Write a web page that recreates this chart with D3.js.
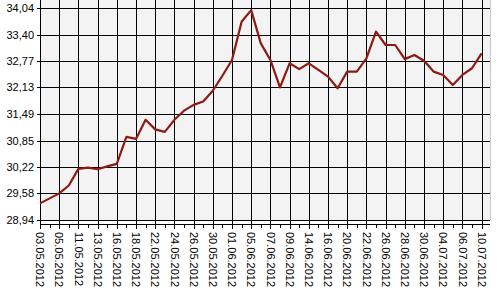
<!DOCTYPE html>
<html>
<head>
<meta charset="utf-8">
<script src="https://cdn.jsdelivr.net/npm/d3@7"></script>
<style>
  body { margin: 0; background: #fff; }
  text { font-family: "Liberation Sans", Arial, sans-serif; }
</style>
</head>
<body>
<script>
// Largeur et hauteur
var larg = 500;
var haut = 300;

// Libellés de l'axe X (un point sur deux)
var dates = ["03.05.2012", "05.05.2012", "11.05.2012", "13.05.2012", "16.05.2012", "18.05.2012",
  "22.05.2012", "24.05.2012", "26.05.2012", "30.05.2012", "01.06.2012", "05.06.2012",
  "07.06.2012", "09.06.2012", "14.06.2012", "16.06.2012", "20.06.2012", "22.06.2012",
  "26.06.2012", "28.06.2012", "30.06.2012", "04.07.2012", "06.07.2012", "10.07.2012"];

// Valeurs (47 points)
var valeurs = [29.34, 29.46, 29.58, 29.77, 30.17, 30.20, 30.16, 30.23, 30.29, 30.94,
  30.89, 31.35, 31.12, 31.06, 31.35, 31.57, 31.71, 31.79, 32.05, 32.41,
  32.79, 33.71, 33.99, 33.19, 32.79, 32.13, 32.71, 32.57, 32.71, 32.55,
  32.39, 32.11, 32.51, 32.51, 32.83, 33.47, 33.15, 33.15, 32.81, 32.91,
  32.77, 32.51, 32.43, 32.19, 32.43, 32.59, 32.95];

// Graduations de l'axe Y
var yTicks = [28.94, 29.58, 30.22, 30.85, 31.49, 32.13, 32.77, 33.40, 34.04];

var x0 = 40, x1 = 490, yTop = 0, yBas = 220;

var svg = d3.select("body")
  .append("svg")
  .attr("width", larg)
  .attr("height", haut);

var x = d3.scaleLinear()
  .domain([0, 47])
  .range([x0, x0 + 47 * 9.6]);

var y = d3.scaleLinear()
  .domain([28.94, 34.04])
  .range([yBas, 8]);

// Fond du graphe
svg.append("rect")
  .attr("x", x0)
  .attr("y", yTop)
  .attr("width", x1 - x0)
  .attr("height", yBas - yTop)
  .attr("fill", "#f3f3f3");

svg.append("line")
  .attr("x1", x1 + 0.5).attr("x2", x1 + 0.5)
  .attr("y1", yTop).attr("y2", yBas)
  .attr("stroke", "#c8c8c8");

// Grille horizontale + axe Y
var axeY = svg.append("g")
  .attr("transform", "translate(" + x0 + ",0)")
  .call(d3.axisLeft(y)
    .tickValues(yTicks)
    .tickSizeInner(-(x1 - x0))
    .tickSizeOuter(0)
    .tickPadding(4)
    .tickFormat(function(d) { return d3.format(".2f")(d).replace(".", ","); }));
axeY.select(".domain").remove();
axeY.selectAll("line").attr("stroke", "#000").attr("x1", -3).attr("shape-rendering", "crispEdges");
axeY.selectAll("text").attr("font-size", "11px").attr("fill", "#000").attr("dx", "-2");

// Indices des points
var idx = d3.range(valeurs.length);
var idxMaj = idx.filter(function(i) { return i % 2 == 0; });

// Grille verticale
var grille = svg.append("g")
  .attr("transform", "translate(0," + yBas + ")")
  .call(d3.axisBottom(x)
    .tickValues(idxMaj)
    .tickSizeInner(-(yBas - yTop))
    .tickSizeOuter(0)
    .tickFormat(""));
grille.select(".domain").remove();
grille.selectAll("line").attr("stroke", "#000").attr("y2", -(yBas - yTop)).attr("y1", 9)
  .attr("shape-rendering", "crispEdges");

// Ligne de l'axe X (en dessous)
var axeX = svg.append("g")
  .attr("transform", "translate(0,224)")
  .call(d3.axisBottom(x)
    .tickValues(idx)
    .tickSizeInner(4)
    .tickSizeOuter(0)
    .tickFormat(""));
axeX.select(".domain").attr("d", "M" + x0 + ",0.5H" + x1).attr("stroke", "#000")
  .attr("shape-rendering", "crispEdges");
axeX.selectAll("line").attr("stroke", "#000").attr("shape-rendering", "crispEdges");

// Libellés des dates (verticaux)
svg.append("g")
  .attr("transform", "translate(0,224)")
  .selectAll("text")
  .data(idxMaj)
  .enter()
  .append("text")
  .attr("transform", function(i) { return "translate(" + x(i) + ",8) rotate(90)"; })
  .attr("dy", "0.35em")
  .attr("font-size", "11px")
  .attr("fill", "#000")
  .text(function(i) { return dates[i / 2]; });

// Axe vertical gauche
svg.append("line")
  .attr("x1", x0 + 0.5).attr("x2", x0 + 0.5)
  .attr("y1", yTop).attr("y2", 224)
  .attr("stroke", "#000")
  .attr("shape-rendering", "crispEdges");

// Courbe
var ligne = d3.line()
  .x(function(d, i) { return x(i); })
  .y(function(d) { return y(d); });

svg.append("path")
  .datum(valeurs)
  .attr("d", ligne)
  .attr("fill", "none")
  .attr("stroke", "#8e1a12")
  .attr("stroke-width", 2.2)
  .attr("stroke-linejoin", "round");
</script>
</body>
</html>
